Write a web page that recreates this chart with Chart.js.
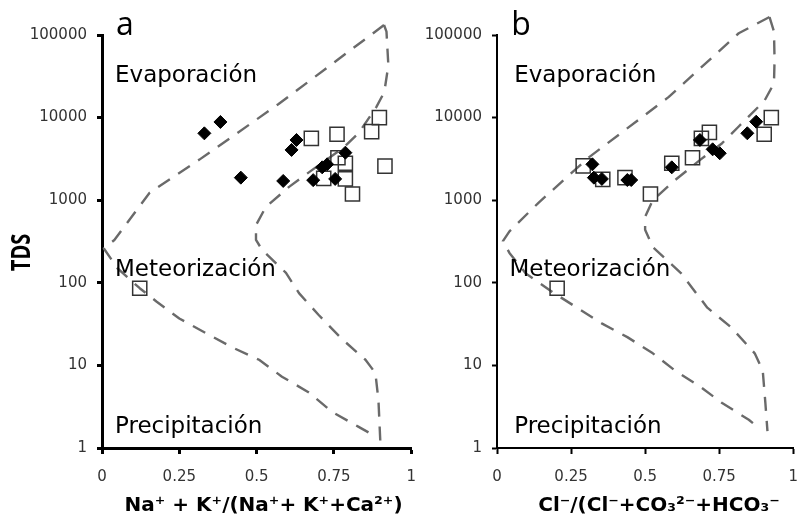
<!DOCTYPE html>
<html>
<head>
<meta charset="utf-8">
<script src="https://cdn.jsdelivr.net/npm/chart.js@4.4.1/dist/chart.umd.min.js"></script>
<style>
  html, body { margin: 0; padding: 0; background: #fff; }
  #wrap { position: relative; width: 812px; height: 525px; overflow: hidden; }
  canvas { position: absolute; top: 0; }
  #chartA { left: 0; }
  #chartB { left: 412px; }
</style>
</head>
<body>
<div id="wrap">
  <canvas id="chartA" width="430" height="525"></canvas>
  <canvas id="chartB" width="400" height="525"></canvas>
</div>
<script>
const xTicks = [0, 0.25, 0.5, 0.75, 1];
const tdsTicks = [1, 10, 100, 1000, 10000, 100000];

// panel a : Na+ + K+ / (Na+ + K+ + Ca2+)
const naDiamondX   = [0.331, 0.383, 0.449, 0.586, 0.613, 0.629, 0.683, 0.712, 0.728, 0.754, 0.787];
const naDiamondTds = [6450, 8850, 1875, 1710, 4060, 5360, 1750, 2500, 2720, 1810, 3760];
const naSquareX    = [0.122, 0.677, 0.76, 0.763, 0.787, 0.717, 0.787, 0.81, 0.872, 0.897, 0.915];
const naSquareTds  = [86, 5610, 6290, 3270, 2800, 1840, 1810, 1190, 6760, 10000, 2590];

// Gibbs boundaries, panel a
const naOuterX   = [0.912, 0.57, 0.315, 0.154, 0.04, 0.006, 0.05, 0.122, 0.177, 0.25, 0.337, 0.42, 0.508, 0.582, 0.669, 0.743, 0.83, 0.868];
const naOuterTds = [132000, 14500, 3100, 1230, 330, 260, 150, 86, 59, 37, 24.5, 16.6, 11.7, 7.3, 4.7, 2.75, 1.8, 1.5];
const naInnerX   = [0.912, 0.92, 0.926, 0.913, 0.887, 0.83, 0.78, 0.68, 0.605, 0.53, 0.498, 0.498, 0.518, 0.595, 0.637, 0.7, 0.775, 0.852, 0.884, 0.894, 0.9];
const naInnerTds = [132000, 110000, 43000, 20400, 13400, 6500, 4300, 2330, 1450, 830, 500, 330, 250, 132, 75, 41, 21, 11.7, 8.1, 3.8, 1.2];

// panel b : Cl- / (Cl- + CO3 2- + HCO3-)
const clDiamondX   = [0.322, 0.327, 0.354, 0.44, 0.453, 0.59, 0.685, 0.728, 0.752, 0.845, 0.875];
const clDiamondTds = [2720, 1875, 1810, 1755, 1755, 2500, 5360, 4130, 3700, 6460, 8920];
const clSquareX    = [0.203, 0.291, 0.357, 0.432, 0.518, 0.59, 0.66, 0.69, 0.717, 0.902, 0.926];
const clSquareTds  = [86, 2600, 1790, 1875, 1190, 2800, 3270, 5610, 6630, 6290, 10000];

// Gibbs boundaries, panel b
const clOuterX   = [0.92, 0.816, 0.58, 0.31, 0.14, 0.042, 0.02, 0.042, 0.097, 0.19, 0.27, 0.355, 0.44, 0.526, 0.6, 0.687, 0.76, 0.85, 0.875];
const clOuterTds = [165000, 105000, 17800, 3300, 930, 420, 320, 230, 130, 76, 50, 32, 22, 14, 8.7, 5.5, 3.5, 2.2, 1.85];
const clInnerX   = [0.92, 0.935, 0.937, 0.935, 0.903, 0.816, 0.76, 0.687, 0.6, 0.526, 0.5, 0.5, 0.526, 0.62, 0.71, 0.79, 0.87, 0.897, 0.906, 0.913];
const clInnerTds = [165000, 110000, 50000, 26000, 16000, 7800, 4900, 3100, 1740, 1000, 630, 440, 270, 132, 50, 29, 14, 8.7, 3.5, 1.6];

const boundaryDash = [14, 10];

const pts = (xs, ys) => xs.map((x, i) => ({ x: x, y: ys[i] }));

// walk the polyline and stroke the dashes one by one
function strokeDashed(ctx, path, pattern) {
    let k = 0, left = pattern[0], on = true;
    ctx.beginPath();
    ctx.moveTo(path[0].x, path[0].y);
    for (let i = 1; i < path.length; i++) {
        let x0 = path[i - 1].x, y0 = path[i - 1].y;
        const dx = path[i].x - x0, dy = path[i].y - y0;
        let len = Math.hypot(dx, dy);
        if (len === 0) continue;
        const ux = dx / len, uy = dy / len;
        while (len > 1e-6) {
            const step = Math.min(left, len);
            x0 += ux * step;
            y0 += uy * step;
            if (on) ctx.lineTo(x0, y0);
            len -= step;
            left -= step;
            if (left <= 1e-6) {
                k = (k + 1) % pattern.length;
                left = pattern[k];
                on = !on;
                if (on) ctx.moveTo(x0, y0);
            }
        }
    }
    ctx.stroke();
}

// boundary curves go under the sample markers
const boundaryLines = {
    id: "boundaryLines",
    beforeDatasetsDraw(chart) {
        const ctx = chart.ctx;
        chart.data.datasets.forEach((ds, i) => {
            if (!ds.boundary) return;
            const path = chart.getDatasetMeta(i).data.map(el => ({ x: el.x, y: el.y }));
            ctx.save();
            ctx.strokeStyle = "#6a6a6a";
            ctx.lineWidth = 2.4;
            ctx.lineCap = "butt";
            ctx.lineJoin = "round";
            strokeDashed(ctx, path, boundaryDash);
            ctx.restore();
        });
    }
};

// letters, zone names and the rotated TDS title
const panelText = {
    id: "panelText",
    afterDraw(chart, args, opts) {
        const { ctx, chartArea } = chart;
        const x = chart.scales.x, y = chart.scales.y;
        ctx.save();
        ctx.fillStyle = "#000";
        ctx.textAlign = "left";
        ctx.textBaseline = "alphabetic";
        ctx.font = '32px "Open Sans"';
        ctx.fillText(opts.letter, x.getPixelForValue(opts.letterAt[0]), y.getPixelForValue(opts.letterAt[1]));
        ctx.font = '23px "DejaVu Sans"';
        opts.zones.forEach(z => {
            ctx.fillText(z.text, x.getPixelForValue(z.at[0]), y.getPixelForValue(z.at[1]));
        });
        if (opts.yTitle) {
            ctx.translate(23, (chartArea.top + chartArea.bottom) / 2 + 11);
            ctx.rotate(-Math.PI / 2);
            ctx.scale(1, 1.3);
            ctx.font = 'bold 20px "Open Sans"';
            ctx.textAlign = "center";
            ctx.textBaseline = "middle";
            ctx.fillText(opts.yTitle, 0, 0);
        }
        ctx.restore();
    }
};

function buildPanel(canvasId, p) {
    // boundary positions come from a hidden line dataset on the same scales
    const curve = data => ({
        type: "line",
        boundary: true,
        data: data,
        showLine: false,
        pointRadius: 0,
        clip: false
    });

    return new Chart(document.getElementById(canvasId), {
        type: "scatter",
        data: {
            datasets: [
                {
                    data: pts(p.diamondX, p.diamondTds),
                    pointStyle: "rectRot",
                    pointRadius: 6.5,
                    backgroundColor: "#000",
                    borderColor: "#000",
                    borderWidth: 1
                },
                {
                    data: pts(p.squareX, p.squareTds),
                    pointStyle: "rect",
                    pointRadius: 10,
                    backgroundColor: "rgba(255,255,255,0)",
                    borderColor: "#333",
                    borderWidth: 1.5
                },
                curve(pts(p.outerX, p.outerTds)),
                curve(pts(p.innerX, p.innerTds))
            ]
        },
        options: {
            responsive: false,
            animation: false,
            events: [],
            layout: { padding: { left: 0, right: p.padRight, top: 35, bottom: 0 } },
            plugins: {
                legend: { display: false },
                tooltip: { enabled: false },
                panelText: {
                    letter: p.letter,
                    letterAt: p.letterAt,
                    zones: p.zones,
                    yTitle: p.yTitle
                }
            },
            scales: {
                x: {
                    type: "linear",
                    min: 0,
                    max: 1,
                    afterBuildTicks: s => { s.ticks = xTicks.map(v => ({ value: v })); },
                    afterFit: s => { s.height = 77; },
                    border: { display: true, color: "#000", width: p.axisWidth },
                    grid: { drawOnChartArea: false, drawTicks: true, tickLength: 6, tickWidth: p.axisWidth, tickColor: "#000" },
                    ticks: {
                        callback: v => String(v),
                        padding: 14,
                        maxRotation: 0,
                        color: "#333",
                        font: { family: "DejaVu Sans", size: 15 }
                    },
                    title: {
                        display: true,
                        text: p.xTitle,
                        color: "#000",
                        font: { family: "DejaVu Sans", size: 20, weight: "bold" },
                        padding: { top: 0, bottom: 7 }
                    }
                },
                y: {
                    type: "logarithmic",
                    min: 1,
                    max: 100000,
                    afterBuildTicks: s => { s.ticks = tdsTicks.map(v => ({ value: v })); },
                    afterFit: s => { s.width = p.yAxisWidth; },
                    border: { display: true, color: "#000", width: p.axisWidth },
                    grid: { drawOnChartArea: false, drawTicks: true, tickLength: 5, tickWidth: p.axisWidth, tickColor: "#000" },
                    ticks: {
                        callback: v => String(v),
                        padding: 10,
                        color: "#333",
                        font: { family: "DejaVu Sans", size: 15 }
                    },
                    title: { display: false }
                }
            }
        },
        plugins: [boundaryLines, panelText]
    });
}

buildPanel("chartA", {
    diamondX: naDiamondX, diamondTds: naDiamondTds,
    squareX: naSquareX, squareTds: naSquareTds,
    outerX: naOuterX, outerTds: naOuterTds,
    innerX: naInnerX, innerTds: naInnerTds,
    xTitle: "  Na⁺ + K⁺/(Na⁺+ K⁺+Ca²⁺)",
    yTitle: "TDS",
    letter: "a",
    letterAt: [0.045, 100000],
    zones: [
        { text: "Evaporación", at: [0.042, 27000] },
        { text: "Meteorización", at: [0.042, 120] },
        { text: "Precipitación", at: [0.042, 1.5] }
    ],
    yAxisWidth: 102,
    padRight: 17,
    axisWidth: 3
});

buildPanel("chartB", {
    diamondX: clDiamondX, diamondTds: clDiamondTds,
    squareX: clSquareX, squareTds: clSquareTds,
    outerX: clOuterX, outerTds: clOuterTds,
    innerX: clInnerX, innerTds: clInnerTds,
    xTitle: "    Cl⁻/(Cl⁻+CO₃²⁻+HCO₃⁻",
    yTitle: null,
    letter: "b",
    letterAt: [0.048, 100000],
    zones: [
        { text: "Evaporación", at: [0.058, 27000] },
        { text: "Meteorización", at: [0.042, 120] },
        { text: "Precipitación", at: [0.058, 1.5] }
    ],
    yAxisWidth: 85,
    padRight: 5,
    axisWidth: 2
});
</script>
</body>
</html>
